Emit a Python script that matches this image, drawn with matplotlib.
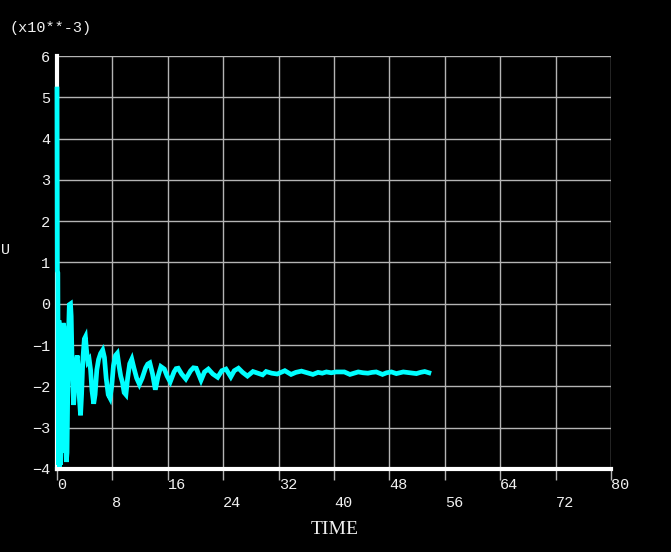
import numpy as np
import matplotlib.pyplot as plt
from matplotlib.transforms import blended_transform_factory, offset_copy

# response values (x10**-3)
time = [0.0, 0.05, 0.12, 0.2, 0.28, 0.36, 0.44, 0.52, 0.6, 0.68, 0.78, 0.9, 1.0,
        1.1, 1.22, 1.35, 1.45, 1.55, 1.65, 1.78, 1.95, 2.05, 2.2, 2.4, 2.55, 2.75,
        2.92, 3.05, 3.2, 3.4, 3.55, 3.75, 3.95, 4.1, 4.25, 4.45, 4.65, 4.85, 5.05,
        5.3, 5.5, 5.75, 6.0, 6.3, 6.6, 6.85, 7.1, 7.4, 7.65, 7.9, 8.15, 8.45, 8.7,
        8.95, 9.2, 9.45, 9.7, 9.95, 10.2, 10.5, 10.8, 11.1, 11.5, 11.9, 12.3, 12.8,
        13.1, 13.4, 13.8, 14.2, 14.6, 15.0, 15.5, 15.9, 16.35, 16.9, 17.2, 17.5, 18.0,
        18.6, 19.3, 19.7, 20.1, 20.8, 21.3, 21.85, 22.5, 23.2, 23.8, 24.4, 25.1, 25.6,
        26.2, 26.8, 27.5, 28.3, 29.0, 29.7, 30.2, 31.0, 31.8, 32.9, 33.8, 34.5, 35.3,
        36.1, 36.95, 37.7, 38.3, 38.9, 39.6, 40.3, 41.5, 42.3, 43.5, 44.2, 44.9,
        45.5, 46.1, 47.0, 47.6, 48.3, 49.0, 50.0, 50.9, 51.9, 52.5, 53.1, 53.7]
u_vals = [5.2, 0.8, 0.75, -3.9, -0.4, -3.95, -0.9, -3.9, -1.8, -3.6, -0.6, -0.47, -0.55,
          -1.6, -3.2, -3.83, -3.6, -2.2, -0.8, -0.02, 0.0, -0.3, -1.6, -2.45, -2.0, -1.4,
          -1.25, -1.5, -2.2, -2.7, -2.2, -1.3, -0.85, -0.8, -1.1, -1.4, -1.35, -1.6, -2.1,
          -2.42, -2.2, -1.6, -1.35, -1.2, -1.12, -1.3, -1.8, -2.2, -2.28, -2.0, -1.5, -1.25, -1.2,
          -1.5, -1.75, -1.9, -2.15, -2.2, -1.8, -1.45, -1.34, -1.55, -1.8, -1.95, -1.8, -1.55,
          -1.46, -1.43, -1.7, -2.08, -1.75, -1.52, -1.58, -1.75, -1.89, -1.65, -1.57, -1.56, -1.7,
          -1.82, -1.62, -1.55, -1.56, -1.85, -1.65, -1.58, -1.7, -1.78, -1.62, -1.58, -1.77, -1.62,
          -1.56, -1.66, -1.75, -1.64, -1.68, -1.72, -1.64, -1.68, -1.7, -1.62, -1.71, -1.66, -1.63,
          -1.67, -1.71, -1.66, -1.68, -1.65, -1.67, -1.65, -1.65, -1.71, -1.65, -1.67, -1.68,
          -1.66, -1.65, -1.71, -1.67, -1.65, -1.69, -1.65, -1.67, -1.69, -1.66, -1.64, -1.67]

x_ticks = [0, 8, 16, 24, 32, 40, 48, 56, 64, 72, 80]
y_ticks = [-4, -3, -2, -1, 0, 1, 2, 3, 4, 5, 6]

MONO = 'Liberation Mono'
TXT = '#f0f0f0'
GRID = '#b4b4b4'

fig = plt.figure(figsize=(6.71, 5.52), dpi=100, facecolor='black')
ax = fig.add_axes([57/671, 83/552, 554/671, 413/552], facecolor='black')

ax.plot(time, u_vals, color='#00ffff', lw=3.4, zorder=3, clip_on=False,
        solid_joinstyle='miter')

ax.set_xlim(0, 80)
ax.set_ylim(-4, 6)
ax.set_xticks(x_ticks)
ax.set_yticks(y_ticks)
ax.grid(True, color=GRID, lw=1.0, zorder=0)
ax.set_axisbelow(True)

for s in ['top', 'right']:
    ax.spines[s].set_visible(False)
for s in ['left', 'bottom']:
    ax.spines[s].set_color('white')
    ax.spines[s].set_linewidth(3)

ax.tick_params(axis='x', direction='out', length=8, width=1, color=GRID,
               labelbottom=False)
ax.tick_params(axis='y', length=0, pad=5, labelcolor=TXT, labelsize=11)
ax.set_yticklabels([str(v).replace('-', '\u2212') for v in y_ticks])
for lab in ax.get_yticklabels():
    lab.set_fontfamily(MONO)
    lab.set_verticalalignment('center_baseline')

# two staggered rows of x labels
trans = blended_transform_factory(ax.transData, ax.transAxes)
for i, xv in enumerate(x_ticks):
    dy = -16 if i % 2 == 0 else -34
    t = offset_copy(trans, fig=fig, x=0, y=dy, units='dots')
    ax.text(xv, 0, str(xv), transform=t, ha='left', va='center',
            color=TXT, fontsize=11, family=MONO)

fig.text(335/671, 1 - 529/552, 'TIME', ha='center', va='center',
         color=TXT, fontsize=14, family='Liberation Serif')
fig.text(10/671, 1 - 28/552, '(x10**-3)', ha='left', va='center',
         color=TXT, fontsize=11, family=MONO)
fig.text(1/671, 1 - 250/552, 'U', ha='left', va='center',
         color=TXT, fontsize=11, family=MONO)

fig.savefig('out.png', dpi=100, facecolor='black')
